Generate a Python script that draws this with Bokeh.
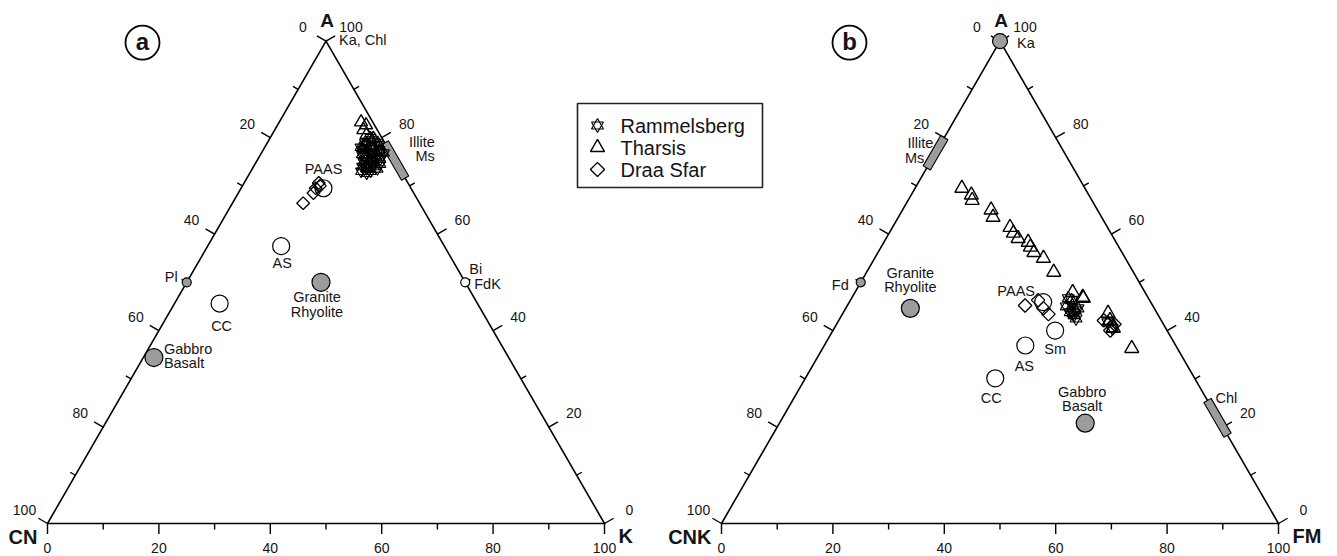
import numpy as np
from bokeh.plotting import figure
from bokeh.models import Range1d
from bokeh.embed import file_html
from bokeh.resources import INLINE
from bokeh.core.properties import value

# ======================= DATA (molar %) =======================
TICK_VALUES = [0, 10, 20, 30, 40, 50, 60, 70, 80, 90, 100]
TICK_LABELS = ["0", "20", "40", "60", "80", "100"]
SERIES = ["Rammelsberg", "Tharsis", "Draa Sfar"]

# ---- Panel (a): A - CN - K   (A apex, CN left, K right) ----
ram_a_A = [79.5, 79.0, 79.0, 78.5, 78.5, 78.0, 78.0, 77.5, 77.5, 77.0, 77.0, 76.5, 76.5, 76.0, 76.0,
           75.5, 75.5, 75.0, 75.0, 74.5, 74.5, 74.0, 74.0, 73.5, 73.5, 73.0, 73.0, 72.6, 80.0, 76.8]
ram_a_K = [18.5, 17.5, 19.8, 18.0, 20.3, 17.2, 19.2, 20.8, 18.0, 19.5, 21.2, 18.2, 20.0, 21.5, 19.0,
           20.5, 22.0, 19.2, 21.0, 22.5, 20.0, 21.5, 19.5, 22.5, 20.5, 21.5, 19.8, 21.0, 18.0, 22.0]
tha_a_A = [83.2, 82.6, 81.6, 80.6, 79.8, 78.2, 76.5, 75.0, 73.8]
tha_a_K = [14.7, 15.9, 15.9, 17.0, 18.6, 17.8, 19.0, 20.2, 20.5]
dra_a_A = [66.4, 68.5, 69.5, 70.6, 70.0]
dra_a_K = [12.7, 13.5, 13.4, 13.4, 13.9]

ref_a_names = ["PAAS", "AS", "CC", "Granite", "Gabbro", "Pl", "Bi"]
ref_a_A = [69.5, 57.5, 45.6, 50.0, 34.4, 50.0, 50.0]
ref_a_K = [14.8, 13.2, 8.1, 24.1, 1.9, 0.0, 50.0]
ref_a_kind = ["open", "open", "open", "gray", "gray", "gray_small", "open_small"]
illite_a_A = [71.6, 78.9]          # bar on the A-K edge

# ---- Panel (b): A - CNK - FM   (A apex, CNK left, FM right) ----
tha_b_A = [69.5, 68.1, 67.0, 65.0, 63.5, 61.4, 60.2, 59.1, 58.3, 57.3, 56.2, 55.0, 52.1,
           47.9, 46.9, 46.7, 43.6, 42.1, 40.5, 36.3]
tha_b_FM = [8.4, 10.8, 11.5, 15.9, 17.0, 21.1, 22.3, 23.7, 25.9, 26.8, 28.0, 30.3, 33.6,
            39.1, 41.4, 41.6, 47.6, 48.7, 50.1, 55.5]
ram_b_A = [46.7, 45.2, 44.2, 43.8, 43.2, 44.6, 45.0, 46.3, 42.5, 43.6, 41.7, 40.5]
ram_b_FM = [38.9, 40.4, 41.4, 40.7, 41.7, 41.7, 39.4, 39.7, 42.4, 41.3, 48.5, 49.9]
dra_b_A = [45.2, 46.3, 44.6, 43.4, 42.1, 40.0, 41.3]
dra_b_FM = [31.9, 33.7, 35.5, 37.0, 47.6, 49.8, 49.9]

ref_b_names = ["Ka", "Fd", "Granite", "PAAS", "Sm", "AS", "CC", "Gabbro"]
ref_b_A = [100.0, 50.0, 44.6, 45.9, 40.0, 36.9, 30.1, 20.8]
ref_b_FM = [0.0, 0.0, 11.6, 34.8, 39.9, 36.1, 34.1, 54.9]
ref_b_kind = ["gray_mid", "gray_small", "gray", "open_nofill", "open", "open", "open", "gray"]
illite_b_A = [73.7, 80.0]          # bar on the A-CNK edge
chl_b_A = [18.3, 25.5]             # bar on the A-FM edge

# ======================= LAYOUT / STYLE =======================
SQ = np.sqrt(3) / 2
S = 5.57                 # screen px per percent unit
W, H = 1337, 556
X0, Y0 = 47, 33          # screen px of panel-a left vertex (from left / from bottom)
OX_A, OX_B = 0.0, 674 / S
FONT = value("Liberation Sans")
TXT = "#151515"
GRAY = "#9c9c9c"

p = figure(width=W, height=H, output_backend="svg", toolbar_location=None,
           x_range=Range1d(-X0 / S, (W - X0) / S), y_range=Range1d(-Y0 / S, (H - Y0) / S),
           x_axis_location=None, y_axis_location=None, min_border=0,
           outline_line_color=None, background_fill_color="white")
p.grid.visible = False


def scr(px, py):
    """screen pixel (from top-left) -> data coordinates (for layout items only)"""
    return (px - X0) / S, (H - py - Y0) / S


def tern(a, r, ox):
    a = np.asarray(a, float)
    r = np.asarray(r, float)
    return ox + r + a / 2, a * SQ


def txt(x, y, s, dx=0, dy=0, align="center", size="14.5px", bold=False):
    p.text(x=[x], y=[y], text=[s], x_offset=dx, y_offset=dy, text_align=align,
           text_baseline="middle", text_font=FONT, text_font_size=size,
           text_font_style="bold" if bold else "normal", text_color=TXT)


def frame(ox, left_name, right_name):
    p.line([ox, ox + 100, ox + 50, ox], [0, 0, 100 * SQ, 0], line_color="black",
           line_width=1.6, line_join="miter")
    v = np.array(TICK_VALUES, float)
    L = np.where(v % 20 == 0, 10.5, 6.0) / S
    p.segment(ox + v, 0 * v, ox + v, -L, line_color="black", line_width=1.4)
    lx, ly = ox + (100 - v) / 2, (100 - v) * SQ
    p.segment(lx, ly, lx - 0.866 * L, ly + 0.5 * L, line_color="black", line_width=1.4)
    rx, ry = ox + 100 - v / 2, v * SQ
    p.segment(rx, ry, rx + 0.866 * L, ry + 0.5 * L, line_color="black", line_width=1.4)
    lv = np.array([int(t) for t in TICK_LABELS], float)
    common = dict(text=TICK_LABELS, text_baseline="middle", text_font=FONT,
                  text_font_size="14px", text_color=TXT, text_align="center")
    p.text(x=ox + lv, y=0 * lv, x_offset=0, y_offset=24, **common)
    p.text(x=ox + (100 - lv) / 2, y=(100 - lv) * SQ, x_offset=-23, y_offset=-14, **common)
    p.text(x=ox + 100 - lv / 2, y=lv * SQ, x_offset=25, y_offset=-14, **common)
    txt(ox + 50, 100 * SQ, "A", dx=1, dy=-21, size="19px", bold=True)
    txt(ox, 0, left_name, dx=-10, dy=13, align="right", size="20px", bold=True)
    txt(ox + 100, 0, right_name, dx=14, dy=12, align="left", size="20px", bold=True)


def edge_bar(a_vals, ox, side):
    a1, a2 = a_vals
    w = 4.2 / S
    if side == "right":
        pts = [(ox + 100 - a / 2, a * SQ) for a in (a1, a2)]
        n = (0.866, 0.5)
    else:
        pts = [(ox + a / 2, a * SQ) for a in (a1, a2)]
        n = (-0.866, 0.5)
    (x1, y1), (x2, y2) = pts
    xs = [x1 + n[0] * w, x2 + n[0] * w, x2 - n[0] * w, x1 - n[0] * w]
    ys = [y1 + n[1] * w, y2 + n[1] * w, y2 - n[1] * w, y1 - n[1] * w]
    p.patch(xs, ys, fill_color=GRAY, line_color="black", line_width=1.1)
    return pts[1]


KIND = {"open": dict(size=17, fill_color="white"),
        "open_nofill": dict(size=17, fill_color=None),
        "gray": dict(size=18, fill_color=GRAY),
        "gray_mid": dict(size=15, fill_color=GRAY),
        "gray_small": dict(size=9, fill_color=GRAY),
        "open_small": dict(size=9, fill_color="white")}


def refs(names, A, R, kinds, ox):
    x, y = tern(A, R, ox)
    pos = {}
    for xi, yi, k, n in zip(x, y, kinds, names):
        p.scatter([xi], [yi], marker="circle", line_color="black", line_width=1.2, **KIND[k])
        pos[n] = (xi, yi)
    return pos


def star(x, y, size, lw=1.15):
    p.scatter(x, y, marker="triangle", size=size, fill_alpha=0, line_color="black", line_width=lw)
    p.scatter(x, y, marker="inverted_triangle", size=size, fill_alpha=0, line_color="black",
              line_width=lw)


def tri(x, y, size):
    p.scatter(x, y, marker="triangle", size=size, fill_alpha=0, line_color="black", line_width=1.4)


def dia(x, y, size):
    p.scatter(x, y, marker="square", angle=np.pi / 4, size=size, fill_alpha=0,
              line_color="black", line_width=1.3)


def samples(ramA, ramR, thaA, thaR, draA, draR, ox, sizes):
    st, tr, di = sizes
    dia(*tern(draA, draR, ox), di)
    tri(*tern(thaA, thaR, ox), tr)
    star(*tern(ramA, ramR, ox), st)


# ---------------- panel (a) ----------------
frame(OX_A, "CN", "K")
top = edge_bar(illite_a_A, OX_A, "right")
pa = refs(ref_a_names, ref_a_A, ref_a_K, ref_a_kind, OX_A)
samples(ram_a_A, ram_a_K, tha_a_A, tha_a_K, dra_a_A, dra_a_K, OX_A, (11, 13, 9))
txt(top[0], top[1], "Illite", dx=50, dy=-1, align="right")
txt(top[0], top[1], "Ms", dx=50, dy=13, align="right")
txt(OX_A + 50, 100 * SQ, "Ka, Chl", dx=13, dy=-1, align="left")
LAB_A = {"PAAS": [("PAAS", 0, -19, "center")],
         "AS": [("AS", 1, 17, "center")],
         "CC": [("CC", 2, 22, "center")],
         "Granite": [("Granite", -4, 15, "center"), ("Rhyolite", -4, 30, "center")],
         "Gabbro": [("Gabbro", 10, -9, "left"), ("Basalt", 10, 5, "left")],
         "Pl": [("Pl", -9, -5, "right")],
         "Bi": [("Bi", 4, -13, "left"), ("FdK", 9, 2, "left")]}
for n, items in LAB_A.items():
    for s, dx, dy, al in items:
        txt(pa[n][0], pa[n][1], s, dx=dx, dy=dy, align=al)

# ---------------- panel (b) ----------------
frame(OX_B, "CNK", "FM")
top_i = edge_bar(illite_b_A, OX_B, "left")
top_c = edge_bar(chl_b_A, OX_B, "right")
pb = refs(ref_b_names, ref_b_A, ref_b_FM, ref_b_kind, OX_B)
samples(ram_b_A, ram_b_FM, tha_b_A, tha_b_FM, dra_b_A, dra_b_FM, OX_B, (12, 14, 9.5))
txt(top_i[0], top_i[1], "Illite", dx=-11, dy=5, align="right")
txt(top_i[0], top_i[1], "Ms", dx=-20, dy=20, align="right")
txt(top_c[0], top_c[1], "Chl", dx=8, dy=-2, align="left")
LAB_B = {"Ka": [("Ka", 17, 2, "left")],
         "Fd": [("Fd", -12, 3, "right")],
         "Granite": [("Granite", 0, -35, "center"), ("Rhyolite", 0, -21, "center")],
         "PAAS": [("PAAS", -27, -11, "center")],
         "Sm": [("Sm", 0, 18, "center")],
         "AS": [("AS", -1, 20, "center")],
         "CC": [("CC", -4, 20, "center")],
         "Gabbro": [("Gabbro", -3, -31, "center"), ("Basalt", -3, -17, "center")]}
for n, items in LAB_B.items():
    for s, dx, dy, al in items:
        txt(pb[n][0], pb[n][1], s, dx=dx, dy=dy, align=al)

# ---------------- panel letters ----------------
for ox, letter, dxp in ((OX_A, "a", 95), (OX_B, "b", 128)):
    lx, ly = ox + dxp / S, 100 * SQ - 1.5 / S
    p.scatter([lx], [ly], marker="circle", size=34, fill_color="white", line_color="black",
              line_width=1.8)
    txt(lx, ly, letter, dy=-1, size="24px", bold=True)

# ---------------- legend (key box) ----------------
bl, bt = scr(577, 103)
br, bb = scr(762, 187)
p.quad(left=[bl], right=[br], top=[bt], bottom=[bb], fill_color="white",
       line_color="#222222", line_width=1.6)
icons = [star, tri, dia]
icon_sizes = [12, 14, 10]
for i, (name, icon, sz) in enumerate(zip(SERIES, icons, icon_sizes)):
    ix, iy = scr(597, 125 + 22 * i)
    icon([ix], [iy], sz)
    tx, ty = scr(620, 125 + 22 * i)
    txt(tx, ty, name, align="left", size="20px")

open("out.html", "w").write(file_html(p, INLINE))
